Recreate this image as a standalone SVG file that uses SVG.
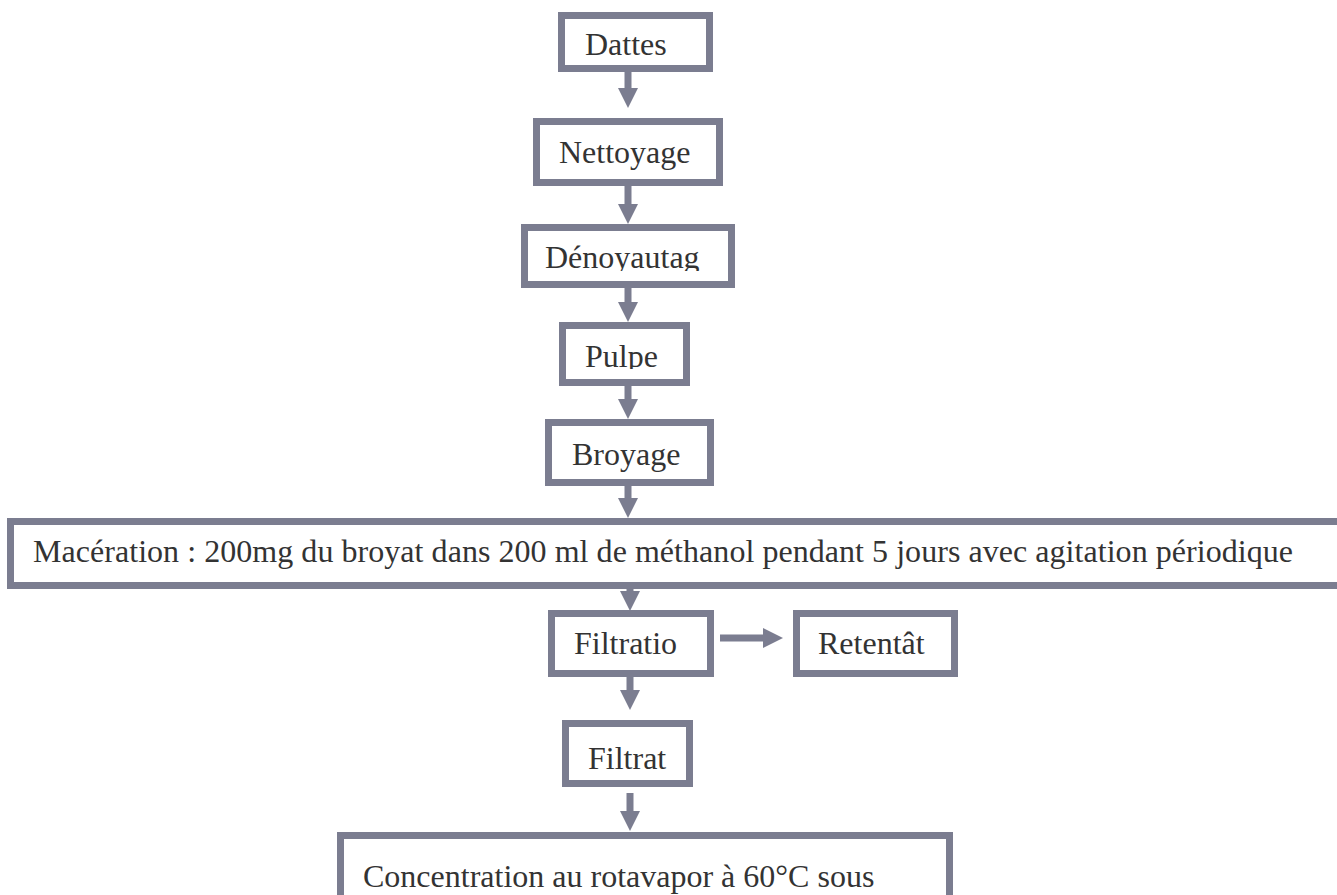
<svg xmlns="http://www.w3.org/2000/svg" width="1337" height="895" viewBox="0 0 1337 895">
<style>
.box{fill:#ffffff;stroke:#7b7d90;stroke-width:7}
.lbl{font-family:"Liberation Serif","Times New Roman",serif;font-size:32px;fill:#333333}
.edge{stroke:#7b7d90;stroke-width:7;fill:none}
</style>
<defs>
<marker id="ah" viewBox="0 0 20 20" markerWidth="20" markerHeight="20" refX="0" refY="10" orient="auto" markerUnits="userSpaceOnUse">
<path d="M0,0 L20,10 L0,20 z" fill="#7b7d90"/>
</marker>
<clipPath id="c-deno"><rect x="524" y="227" width="208" height="44"/></clipPath>
<clipPath id="c-pulpe"><rect x="562" y="325" width="125" height="44"/></clipPath>
</defs>
<rect width="1337" height="895" fill="#ffffff"/>
<g id="connectors">
<line class="edge" x1="628" y1="72" x2="628" y2="88" marker-end="url(#ah)"/>
<line class="edge" x1="628" y1="186" x2="628" y2="204" marker-end="url(#ah)"/>
<line class="edge" x1="628" y1="288" x2="628" y2="302" marker-end="url(#ah)"/>
<line class="edge" x1="628" y1="386" x2="628" y2="399" marker-end="url(#ah)"/>
<line class="edge" x1="628" y1="486" x2="628" y2="498" marker-end="url(#ah)"/>
<line class="edge" x1="630" y1="589" x2="630" y2="591" marker-end="url(#ah)"/>
<line class="edge" x1="630" y1="677" x2="630" y2="690" marker-end="url(#ah)"/>
<line class="edge" x1="720" y1="638" x2="763" y2="638" marker-end="url(#ah)"/>
<line class="edge" x1="630" y1="793" x2="630" y2="811" marker-end="url(#ah)"/>
</g>
<g id="n-dattes">
<rect class="box" x="561.5" y="15.5" width="148" height="53"/>
<text class="lbl" x="585" y="55">Dattes</text>
</g>
<g id="n-nettoyage">
<rect class="box" x="536.5" y="121.5" width="183" height="61"/>
<text class="lbl" x="559" y="163">Nettoyage</text>
</g>
<g id="n-denoyautage">
<rect class="box" x="524.5" y="227.5" width="207" height="57"/>
<text class="lbl" x="545" y="268" clip-path="url(#c-deno)">Dénoyautag</text>
</g>
<g id="n-pulpe">
<rect class="box" x="562.5" y="325.5" width="124" height="57"/>
<text class="lbl" x="585" y="367" clip-path="url(#c-pulpe)">Pulpe</text>
</g>
<g id="n-broyage">
<rect class="box" x="548.5" y="422.5" width="162" height="60"/>
<text class="lbl" x="572" y="465">Broyage</text>
</g>
<g id="n-maceration">
<rect class="box" x="10.5" y="521.5" width="1340" height="64"/>
<text class="lbl" x="33" y="562" textLength="1260" lengthAdjust="spacing">Macération : 200mg du broyat dans 200 ml de méthanol pendant 5 jours avec agitation périodique</text>
</g>
<g id="n-filtration">
<rect class="box" x="551.5" y="613.5" width="159" height="60"/>
<text class="lbl" x="574" y="654">Filtratio</text>
</g>
<g id="n-retentat">
<rect class="box" x="796.5" y="613.5" width="158" height="60"/>
<text class="lbl" x="818" y="654">Retentât</text>
</g>
<g id="n-filtrat">
<rect class="box" x="565.5" y="723.5" width="124" height="60"/>
<text class="lbl" x="588" y="769">Filtrat</text>
</g>
<g id="n-concentration">
<rect class="box" x="340.5" y="835.5" width="609" height="80"/>
<text class="lbl" x="363" y="887">Concentration au rotavapor à 60°C sous</text>
</g>
</svg>
